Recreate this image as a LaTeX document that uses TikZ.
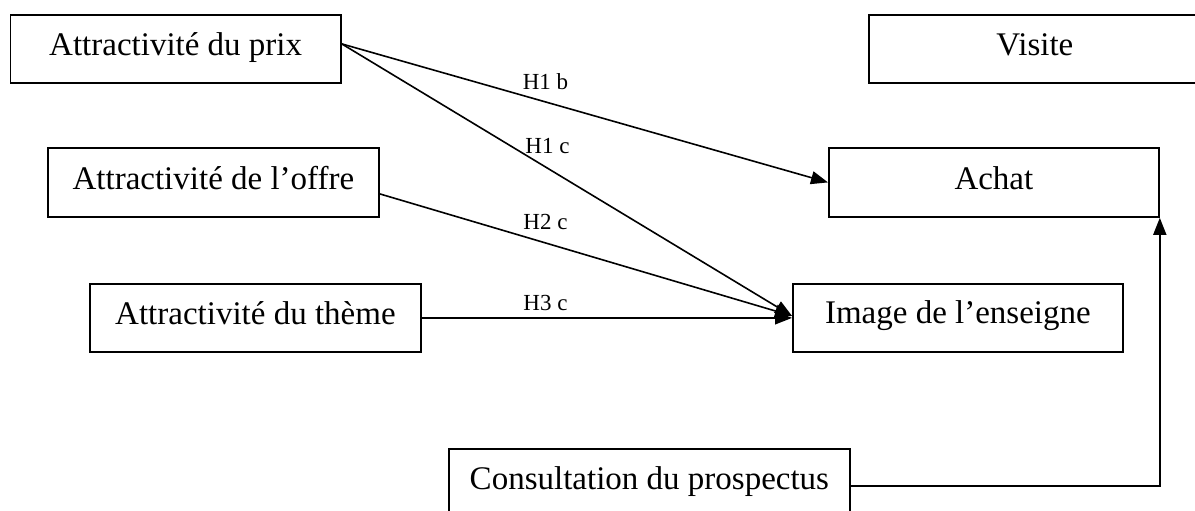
\documentclass[tikz,border=0pt]{standalone}
\usepackage{fontspec}
\setmainfont{Liberation Serif}
\usetikzlibrary{arrows.meta}
\begin{document}
\begin{tikzpicture}[x=1pt,y=-1pt,
  box/.style={draw, line width=1.8pt, inner sep=0pt, align=center, anchor=north west,
    font=\fontsize{33}{40}\selectfont},
  lbl/.style={inner sep=0pt, anchor=base, font=\fontsize{23}{28}\selectfont},
  conn/.style={line width=1.6pt, -{Triangle[length=17pt,width=13pt]}}]
\useasboundingbox (0,0) rectangle (1195,511);
\node[box, minimum width=330.5pt, text height=41pt, text depth=27pt] (prix) at (9.5,14) {Attractivité du prix};
\node[box, minimum width=332pt, text height=41pt, text depth=27pt] (visite) at (868,14) {Visite};
\node[box, minimum width=331pt, text height=42pt, text depth=27pt] (offre) at (47,147) {Attractivité de l’offre};
\node[box, minimum width=331pt, text height=41pt, text depth=27pt] (theme) at (89,283) {Attractivité du thème};
\node[box, minimum width=330pt, text height=42pt, text depth=27pt] (achat) at (828,147) {Achat};
\node[box, minimum width=330pt, text height=40pt, text depth=28pt] (image) at (792,283) {Image de l’enseigne};
\node[box, minimum width=401pt, text height=41pt, text depth=33pt] (cons) at (448,448) {Consultation du prospectus};
\draw[conn] ([yshift=5pt]prix.east) -- (achat.west);
\draw[conn] ([yshift=5pt]prix.east) -- ([yshift=2pt]image.west);
\draw[conn] ([yshift=-11.5pt]offre.east) -- ([yshift=2pt]image.west);
\draw[conn] (theme.east) -- (image.west);
\draw[conn] (cons.east) -| (achat.south east);
\node[lbl] (h1b) at (545.5,90) {H1 b};
\node[lbl] (h1c) at (547.5,153) {H1 c};
\node[lbl] (h2c) at (545.5,229) {H2 c};
\node[lbl] (h3c) at (545.5,310) {H3 c};
\end{tikzpicture}
\end{document}
